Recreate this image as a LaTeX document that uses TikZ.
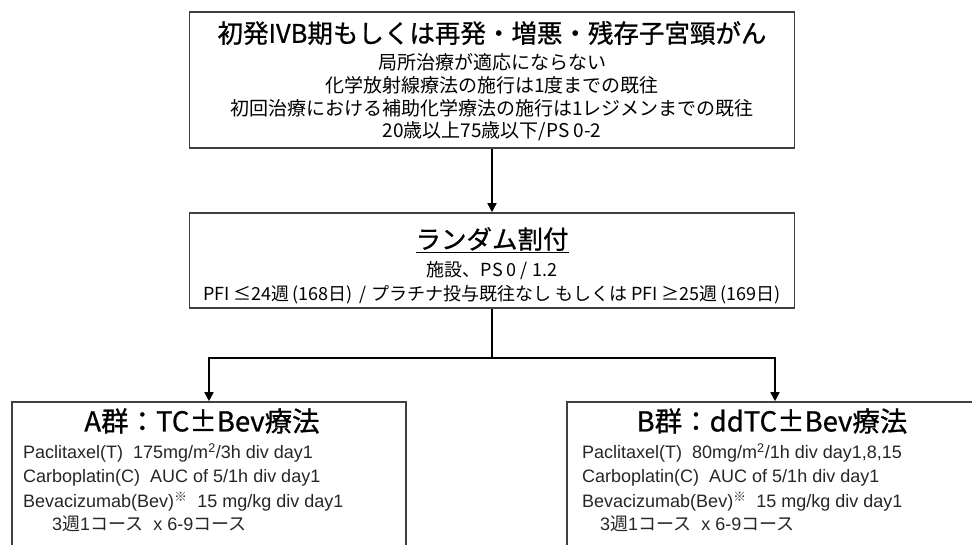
\documentclass[tikz,border=0pt]{standalone}
\usepackage{fontspec}
\setmainfont{Noto Sans CJK JP}
\newfontfamily\lat{Liberation Sans}
\newfontfamily\jp{Noto Sans CJK JP}
\newfontfamily\jph{Noto Sans CJK JP}[FakeBold=0.8]
\usetikzlibrary{arrows.meta}
\begin{document}
\begin{tikzpicture}[x=1pt,y=-1pt,
  box/.style={draw=black!75,line width=1.6pt,inner sep=0pt},
  arr/.style={line width=1.6pt,-{Triangle[length=9pt,width=9pt]}},
  conn/.style={line width=1.6pt},
  ttl/.style={font=\jph\fontsize{25.5}{28}\selectfont,inner sep=0pt,anchor=center},
  armt/.style={font=\jph\fontsize{27.5}{30}\selectfont,inner sep=0pt,anchor=center},
  sub/.style={font=\fontsize{19}{22}\selectfont,inner sep=0pt,anchor=center},
  subr/.style={font=\fontsize{18}{22}\selectfont,inner sep=0pt,anchor=center},
  lst/.style={font=\lat\fontsize{18}{20}\selectfont,inner sep=0pt,anchor=west,text=black!85}]
\useasboundingbox (0,0) rectangle (972,545);
\clip (0,0) rectangle (972,545);
\fill[white] (0,0) rectangle (972,545);
% top box
\node[box,minimum width=605pt,minimum height=136pt] (top) at (492,80) {};
\node[ttl] (t1) at (492,33) {初発IVB期もしくは再発・増悪・残存子宮頸がん};
\node[sub] (t2) at (492,62) {局所治療が適応にならない};
\node[sub] (t3) at (492,85) {化学放射線療法の施行は1度までの既往};
\node[sub] (t4) at (492,108) {初回治療における補助化学療法の施行は1レジメンまでの既往};
\node[sub] (t5) at (492,131) {20歳以上75歳以下/PS 0-2};
% random box
\node[box,minimum width=605pt,minimum height=95pt] (rand) at (492,260.5) {};
\node[ttl] (r1) at (492,240) {\underline{ランダム割付}};
\node[subr] (r2) at (492,271) {施設、PS 0 / 1.2};
\node[subr] (r3) at (492,295) {PFI ≤24週\,(168日)\, / プラチナ投与既往なし もしくは PFI ≥25週\,(169日)};
% arms
\node[box,minimum width=394pt,minimum height=160pt] (A) at (209,482) {};
\node[box,minimum width=416pt,minimum height=160pt] (B) at (775,482) {};
\node[armt] (a0) at (202,421) {A群：TC±Bev療法};
\node[lst] (a1) at (23,453) {Paclitaxel(T)\ \ 175mg/m\textsuperscript{2}/3h div day1};
\node[lst] (a2) at (23,478) {Carboplatin(C)\ \ AUC of 5/1h div day1};
\node[lst] (a3) at (23,502) {Bevacizumab(Bev)\textsuperscript{\jp ※}\ \ 15 mg/kg div day1};
\node[lst] (a4) at (52,524) {3{\jp 週}1{\jp コース}\ \ x 6-9{\jp コース}};
\node[armt] (b0) at (772,421) {B群：ddTC±Bev療法};
\node[lst] (b1) at (582,453) {Paclitaxel(T)\ \ 80mg/m\textsuperscript{2}/1h div day1,8,15};
\node[lst] (b2) at (582,478) {Carboplatin(C)\ \ AUC of 5/1h div day1};
\node[lst] (b3) at (582,502) {Bevacizumab(Bev)\textsuperscript{\jp ※}\ \ 15 mg/kg div day1};
\node[lst] (b4) at (600,524) {3{\jp 週}1{\jp コース}\ \ x 6-9{\jp コース}};
% connectors
\draw[arr] (top.south) -- (rand.north);
\draw[conn] (rand.south) -- ++(0,49) coordinate (split);
\draw[arr] (split) -| (A.north);
\draw[arr] (split) -| (B.north);
\end{tikzpicture}
\end{document}
